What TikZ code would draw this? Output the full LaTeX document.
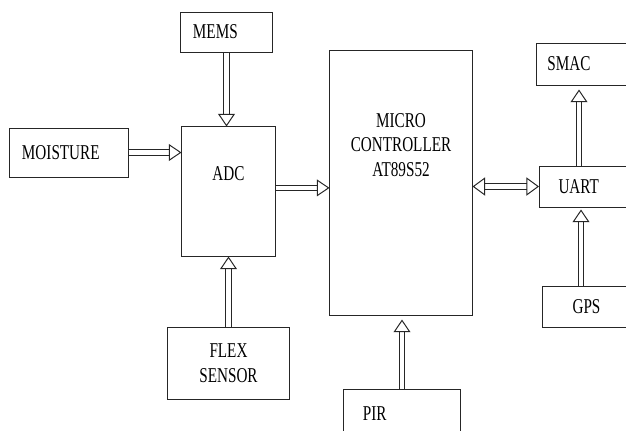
\documentclass[tikz,border=0pt]{standalone}
\usepackage{fontspec}
\setmainfont{Liberation Serif}[FakeStretch=0.72]
\usetikzlibrary{arrows.meta, positioning, calc}

\begin{document}
\begin{tikzpicture}[
	x=0.025cm, y=-0.025cm,
	block/.style={rectangle, draw=black!85, line width=.7pt, inner ysep=0pt, align=center},
	leftblock/.style={block, align=left},
	arrow/.style={draw=black!85, double, double distance=3.3pt, line width=.7pt, -{Triangle[open, length=9pt, width=12pt]}},
	twoarrow/.style={arrow, {Triangle[open, length=9pt, width=13pt]}-{Triangle[open, length=9pt, width=13pt]}},
	every node/.style={font=\fontsize{15}{17.4}\selectfont}
	]
	
	\useasboundingbox (0,0) rectangle (626,430);
	\clip (0,0) rectangle (626,430);
	
	%Sensor side
	\node[leftblock, minimum width=2.275cm, minimum height=1cm, inner xsep=.3cm, text width=1.675cm] (mems) at (226.5,32) {MEMS};
	\node[leftblock, minimum width=2.95cm, minimum height=1.225cm, inner xsep=.3cm, text width=2.35cm] (moisture) at (69,152.5) {MOISTURE};
	\node[block, minimum width=2.325cm, minimum height=3.225cm, text depth=.9cm] (adc) at (228.5,191.5) {ADC};
	\node[block, minimum width=3.025cm, minimum height=1.8cm] (flex) at (228.5,363) {FLEX\\ SENSOR};
	
	%Controller
	\node[block, minimum width=3.55cm, minimum height=6.6cm, text depth=1.9cm] (micro) at (401,183) {MICRO\\ CONTROLLER\\ AT89S52};
	\node[leftblock, minimum width=2.9cm, minimum height=1.25cm, inner xsep=.475cm, text width=1.95cm] (pir) at (402,414) {PIR};
	
	%Right side
	\node[leftblock, anchor=west, minimum width=2.6cm, minimum height=1.05cm, inner xsep=.275cm, text width=2.05cm] (smac) at (536,64) {SMAC};
	\node[leftblock, anchor=west, minimum width=2.6cm, minimum height=1.025cm, inner xsep=.475cm, text width=1.65cm] (uart) at (539,186.5) {UART};
	\node[block, anchor=west, minimum width=2.2cm, minimum height=1.025cm] (gps) at (542,306.5) {GPS};
	
	\draw[arrow] (mems.south) to (mems.south |- adc.north);
	\draw[arrow] (moisture.east) to (moisture.east -| adc.west);
	\draw[arrow] (flex.north) to (flex.north |- adc.south);
	\draw[arrow] ([yshift=.09cm]adc.east) to ([yshift=.09cm]adc.east -| micro.west);
	\draw[arrow, shorten >=.1cm] (pir.north) to (pir.north |- micro.south);
	\draw[twoarrow] (uart.west -| micro.east) to (uart.west);
	\draw[arrow, shorten >=.1cm] ([xshift=1cm]uart.north west) to ([xshift=1cm]uart.north west |- smac.south);
	\draw[arrow, shorten >=.05cm] ([xshift=.975cm]gps.north west) to ([xshift=.975cm]gps.north west |- uart.south);
\end{tikzpicture}
\end{document}
